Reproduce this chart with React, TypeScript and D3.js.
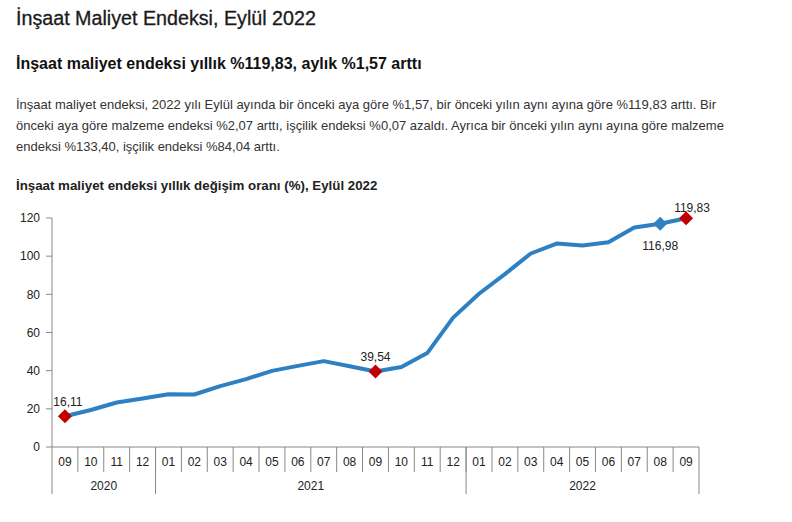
import React from 'react';
import * as d3 from 'd3';

const months = [
  '09', '10', '11', '12',
  '01', '02', '03', '04', '05', '06', '07', '08', '09', '10', '11', '12',
  '01', '02', '03', '04', '05', '06', '07', '08', '09',
];
const years = ['2020', '2021', '2022'];
const yearSpans = [4, 12, 9];
const values = [
  16.11, 19.4, 23.3, 25.4,
  27.6, 27.5, 31.9, 35.6, 39.9, 42.5, 45.0, 42.3, 39.54, 41.9, 49.2, 67.8,
  80.3, 90.6, 101.4, 106.6, 105.6, 107.3, 115.0, 116.98, 119.83,
];
const yTicks = [0, 20, 40, 60, 80, 100, 120];
// labelled points: index, text, placement
const labelled = [
  { i: 0, text: '16,11', dx: 3, dy: -10, color: '#c00000' },
  { i: 12, text: '39,54', dx: 0, dy: -11, color: '#c00000' },
  { i: 23, text: '116,98', dx: 0, dy: 26, color: '#2e80c3' },
  { i: 24, text: '119,83', dx: 6, dy: -6, color: '#c00000' },
];

const paragraph = [
  'İnşaat maliyet endeksi, 2022 yılı Eylül ayında bir önceki aya göre %1,57, bir önceki yılın aynı ayına göre %119,83 arttı. Bir',
  'önceki aya göre malzeme endeksi %2,07 arttı, işçilik endeksi %0,07 azaldı. Ayrıca bir önceki yılın aynı ayına göre malzeme',
  'endeksi %133,40, işçilik endeksi %84,04 arttı.',
];

const font = '"Liberation Sans", Arial, sans-serif';

export default function App() {
  const width = 792;
  const height = 522;
  const axisTop = 447;

  const x = d3.scaleBand<number>()
    .domain(d3.range(months.length))
    .range([52, 699])
    .padding(0);
  const y = d3.scaleLinear().domain([0, 120]).range([axisTop, 218]);

  const cx = (i: number) => (x(i) as number) + x.bandwidth() / 2;

  const line = d3.line<number>()
    .x((_, i) => cx(i))
    .y(d => y(d));

  const diamond = (px: number, py: number, r: number) =>
    `M${px},${py - r}L${px + r},${py}L${px},${py + r}L${px - r},${py}Z`;

  // year boundaries
  const yearStarts: number[] = [];
  let acc = 0;
  yearSpans.forEach(s => { yearStarts.push(acc); acc += s; });

  return (
    <svg width={width} height={height}
      style={{ position: 'absolute', left: 0, top: 0, background: '#fff', fontFamily: font }}>
      <text x={16} y={25} fontSize={19.7} fill="#1a1a1a" stroke="#1a1a1a" strokeWidth={0.3}>İnşaat Maliyet Endeksi, Eylül 2022</text>
      <text x={16} y={69} fontSize={16} fontWeight="bold" fill="#111">
        İnşaat maliyet endeksi yıllık %119,83, aylık %1,57 arttı
      </text>
      {paragraph.map((t, k) => (
        <text key={k} x={16} y={109 + k * 21} fontSize={13} fill="#333">{t}</text>
      ))}
      <text x={16} y={190} fontSize={13.3} fontWeight="bold" fill="#222">
        İnşaat maliyet endeksi yıllık değişim oranı (%), Eylül 2022
      </text>

      {/* y axis */}
      <line x1={52} x2={52} y1={y(120)} y2={494} stroke="#888" />
      {yTicks.map(t => (
        <g key={t}>
          <line x1={46} x2={52} y1={y(t)} y2={y(t)} stroke="#888" />
          <text x={40} y={y(t)} dy="0.35em" textAnchor="end" fontSize={12} fill="#222">{t}</text>
        </g>
      ))}

      {/* x axis */}
      <line x1={52} x2={699} y1={axisTop} y2={axisTop} stroke="#888" />
      {months.map((m, i) => (
        <g key={i}>
          {i > 0 && (
            <line x1={x(i)} x2={x(i)} y1={axisTop} y2={472} stroke="#888" />
          )}
          <text x={cx(i)} y={462} dy="0.35em" textAnchor="middle" fontSize={12} fill="#222">{m}</text>
        </g>
      ))}
      {years.map((yr, k) => {
        const s = yearStarts[k];
        const e = s + yearSpans[k];
        const x0 = x(s) as number;
        const x1 = e >= months.length ? 699 : (x(e) as number);
        return (
          <g key={yr}>
            {k > 0 && <line x1={x0} x2={x0} y1={axisTop} y2={494} stroke="#888" />}
            {k === years.length - 1 && <line x1={x1} x2={x1} y1={axisTop} y2={494} stroke="#888" />}
            <text x={(x0 + x1) / 2} y={486} dy="0.35em" textAnchor="middle" fontSize={12} fill="#222">{yr}</text>
          </g>
        );
      })}

      {/* series */}
      <path d={line(values) || ''} fill="none" stroke="#2e80c3" strokeWidth={4} strokeLinejoin="round" />
      {labelled.map(p => (
        <g key={p.i}>
          <path d={diamond(cx(p.i), y(values[p.i]), 7)} fill={p.color} />
          <text x={cx(p.i) + p.dx} y={y(values[p.i]) + p.dy} textAnchor="middle" fontSize={12} fill="#222">
            {p.text}
          </text>
        </g>
      ))}
    </svg>
  );
}
